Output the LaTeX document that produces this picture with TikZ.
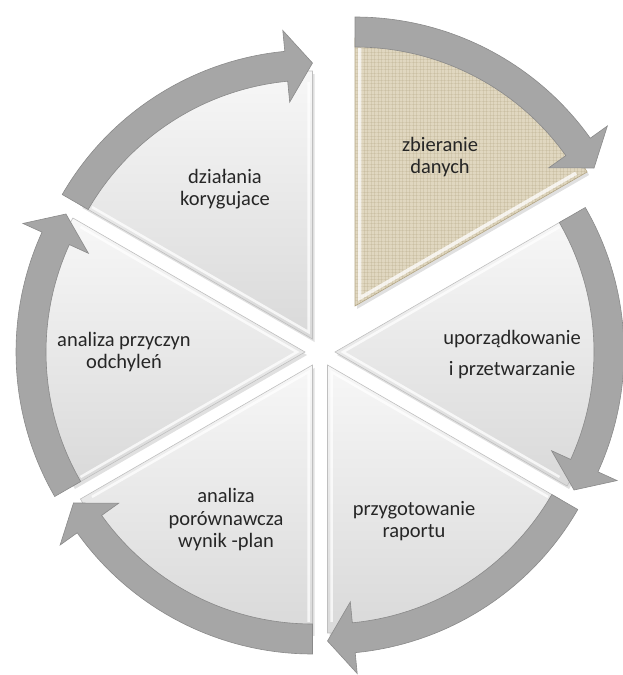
\documentclass[tikz,border=0pt]{standalone}
\usepackage{fontspec}
\setmainfont{Carlito}
\usetikzlibrary{calc,patterns.meta}
\definecolor{cSeg}{HTML}{D9D9D9}
\definecolor{cSegLt}{HTML}{F7F7F7}
\definecolor{cArr}{HTML}{A6A6A6}
\definecolor{cArrEdge}{HTML}{8A8A8A}
\definecolor{cTan}{HTML}{E0D7C0}
\definecolor{cTanDk}{HTML}{B3A684}
\tikzset{
  seg/.style={top color=cSegLt, bottom color=cSeg, draw=gray!50, line width=0.6pt},
  segsel/.style={fill=cTan, draw=cTanDk, line width=0.6pt},
  segshade/.style={fill=black, opacity=0.12},
  bevel/.style={draw=white, line width=2.5pt, opacity=0.75},
  cyc/.style={fill=cArr, draw=cArrEdge, line width=0.6pt, line join=miter},
  lbl/.style={align=center, font=\fontsize{20.5}{22.5}\selectfont, text=black!85},
}

\begin{document}
\begin{tikzpicture}[x=1pt, y=1pt]
  \useasboundingbox (0,0) rectangle (622,-675);
  \coordinate (c0) at (320,-352);
  % five plain segments, pushed out a little
  \foreach \b in {0,120,180,240,300} {
    \begin{scope}[shift={($(c0)+(\b:15)$)}]
      \fill[segshade, shift={(2,-3)}] (0,0) -- ({\b+30}:268)
        arc[start angle=\b+30, end angle=\b-30, radius=268] -- cycle;
      \path[seg] (0,0) -- ({\b+30}:268)
        arc[start angle=\b+30, end angle=\b-30, radius=268] -- cycle;
      \draw[bevel, shift={(\b:8)}] ({\b+30}:250) -- (0,0) -- ({\b-30}:250);
      \filldraw[cyc] ({\b+30}:259) -- ({\b+30}:289)
        arc[start angle=\b+30, end angle=\b-24.5, radius=289]
        -- ({\b-24.5}:310) -- ({\b-30}:276) -- ({\b-24.5}:238)
        -- ({\b-24.5}:259)
        arc[start angle=\b-24.5, end angle=\b+30, radius=259] -- cycle;
    \end{scope}
  }
  % the picked segment, pulled further out
  \begin{scope}[shift={(355,-306)}]
    \fill[segshade, shift={(2,-3)}] (0,0) -- (90:268)
      arc[start angle=90, end angle=30, radius=268] -- cycle;
    \path[segsel] (0,0) -- (90:268) arc[start angle=90, end angle=30, radius=268] -- cycle;
    \fill[pattern={Lines[angle=0, distance=3.5pt, line width=0.4pt]}, pattern color=cTanDk, opacity=0.25]
      (0,0) -- (90:268) arc[start angle=90, end angle=30, radius=268] -- cycle;
    \fill[pattern={Lines[angle=90, distance=3.5pt, line width=0.4pt]}, pattern color=cTanDk, opacity=0.25]
      (0,0) -- (90:268) arc[start angle=90, end angle=30, radius=268] -- cycle;
    \draw[bevel, line width=3.5pt, shift={(60:9)}] (90:250) -- (0,0) -- (30:250);
    \filldraw[cyc] (90:259) -- (90:289)
      arc[start angle=90, end angle=35.5, radius=289]
      -- (35.5:310) -- (30:276) -- (35.5:238) -- (35.5:259)
      arc[start angle=35.5, end angle=90, radius=259] -- cycle;
  \end{scope}
  % labels
  \node[lbl] (zb) at (440,-157) {zbieranie\\danych};
  \node[lbl, font=\fontsize{20.5}{31}\selectfont] (up) at (512,-355) {uporządkowanie\\i przetwarzanie};
  \node[lbl] (pz) at (414,-521) {przygotowanie\\raportu};
  \node[lbl] (po) at (226,-520) {analiza\\porównawcza\\wynik -plan};
  \node[lbl] (pr) at (124,-352) {analiza przyczyn\\odchyleń};
  \node[lbl] (dz) at (225,-189) {działania\\korygujace};
\end{tikzpicture}
\end{document}
